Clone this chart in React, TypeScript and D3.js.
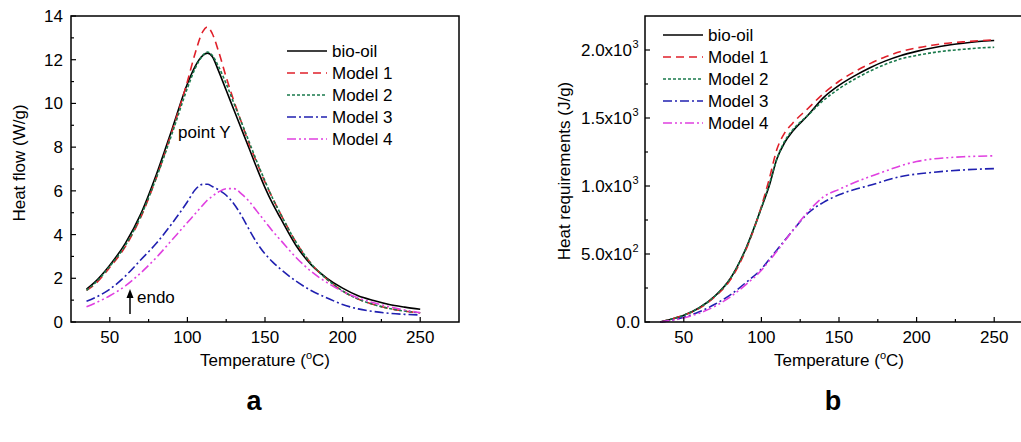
import * as d3 from "d3";

// ---- data ----
const tempA = [35, 40, 50, 60, 70, 80, 90, 100, 105, 110, 113, 116, 120, 125, 130, 135, 140, 145, 150, 155, 160, 170, 180, 190, 200, 210, 220, 230, 240, 250];
const flowBio = [1.5, 1.8, 2.6, 3.6, 4.95, 6.75, 8.8, 10.9, 11.7, 12.2, 12.3, 12.15, 11.5, 10.6, 9.7, 8.8, 7.9, 7.0, 6.15, 5.4, 4.75, 3.5, 2.6, 2.0, 1.55, 1.2, 0.98, 0.8, 0.68, 0.58];
const flowM1 = [1.45, 1.7, 2.5, 3.45, 4.8, 6.6, 8.7, 11.0, 12.3, 13.3, 13.5, 13.2, 12.4, 11.2, 10.1, 9.1, 8.1, 7.25, 6.4, 5.65, 4.95, 3.65, 2.65, 1.95, 1.42, 1.05, 0.8, 0.62, 0.5, 0.42];
const flowM2 = [1.45, 1.75, 2.55, 3.5, 4.85, 6.6, 8.6, 10.7, 11.6, 12.2, 12.35, 12.2, 11.7, 10.9, 10.0, 9.1, 8.2, 7.3, 6.45, 5.65, 4.95, 3.65, 2.65, 1.95, 1.42, 1.05, 0.8, 0.62, 0.5, 0.42];
const flowM3 = [0.95, 1.1, 1.5, 2.1, 2.85, 3.6, 4.5, 5.5, 6.05, 6.3, 6.3, 6.2, 6.05, 5.8, 5.4, 4.85, 4.2, 3.6, 3.12, 2.74, 2.42, 1.87, 1.43, 1.1, 0.8, 0.6, 0.48, 0.4, 0.35, 0.32];
const flowM4 = [0.7, 0.85, 1.2, 1.65, 2.25, 2.95, 3.75, 4.55, 4.95, 5.35, 5.58, 5.75, 5.95, 6.1, 6.1, 5.85, 5.5, 5.05, 4.6, 4.15, 3.75, 2.95, 2.3, 1.8, 1.4, 1.1, 0.88, 0.7, 0.55, 0.42];

const tempB = [35, 40, 50, 60, 70, 80, 90, 100, 105, 110, 115, 120, 130, 140, 150, 160, 170, 180, 190, 200, 210, 220, 230, 240, 250];
const heatBio = [0, 15, 50, 105, 190, 320, 540, 840, 1000, 1200, 1320, 1400, 1520, 1650, 1740, 1810, 1870, 1920, 1960, 1990, 2015, 2035, 2050, 2062, 2070];
const heatM1 = [0, 15, 50, 100, 185, 310, 530, 850, 1050, 1270, 1390, 1460, 1570, 1680, 1770, 1840, 1900, 1950, 1990, 2015, 2035, 2050, 2060, 2068, 2075];
const heatM2 = [0, 15, 50, 105, 190, 320, 540, 840, 1010, 1200, 1330, 1410, 1520, 1630, 1715, 1785, 1845, 1895, 1935, 1960, 1980, 1995, 2005, 2015, 2020];
const heatM3 = [0, 8, 35, 75, 130, 200, 290, 390, 460, 530, 600, 670, 800, 880, 935, 975, 1005, 1040, 1070, 1088, 1100, 1110, 1118, 1124, 1128];
const heatM4 = [0, 8, 30, 65, 115, 185, 275, 380, 450, 520, 595, 670, 810, 920, 975, 1025, 1070, 1110, 1150, 1180, 1198, 1208, 1215, 1219, 1222];

const seriesNames = ["bio-oil", "Model 1", "Model 2", "Model 3", "Model 4"];
const seriesColors = ["#000000", "#e0202a", "#1a7a4c", "#2020b0", "#e040e0"];
const seriesDash = ["", "8,5", "3,2", "9,3,2,3", "9,3,2,3,2,3"];

const xTicks = [50, 100, 150, 200, 250];
const xMinor = [75, 125, 175, 225];
const flowTicks = [0, 2, 4, 6, 8, 10, 12, 14];
const flowMinor = [1, 3, 5, 7, 9, 11, 13];
const heatTicks = [0, 500, 1000, 1500, 2000];
const heatTickMant = ["0.0", "5.0x10", "1.0x10", "1.5x10", "2.0x10"];
const heatTickExp = ["", "2", "3", "3", "3"];
const heatMinor = [250, 750, 1250, 1750];

const FONT = "'Liberation Sans', Arial, sans-serif";
const FS = 17;

type PanelProps = {
  left: number;
  right: number;
  temps: number[];
  series: number[][];
  yMax: number;
  legendX: number;
  legendY: number;
};

function Panel({ left, right, temps, series, yMax, legendX, legendY }: PanelProps) {
  const top = 16;
  const bottom = 322;
  const x = d3.scaleLinear().domain([25, 275]).range([left, right]);
  const y = d3.scaleLinear().domain([0, yMax]).range([bottom, top]);
  const line = d3
    .line<number>()
    .x((_, i) => x(temps[i]))
    .y((d) => y(d))
    .curve(d3.curveMonotoneX);

  return (
    <g>
      {series.map((vals, i) => (
        <path
          key={i}
          d={line(vals) || ""}
          fill="none"
          stroke={seriesColors[i]}
          strokeWidth={1.6}
          strokeDasharray={seriesDash[i]}
        />
      ))}
      {/* frame */}
      <rect x={left} y={top} width={right - left} height={bottom - top} fill="none" stroke="#000" strokeWidth={1.5} />
      {xTicks.map((t) => (
        <g key={t}>
          <line x1={x(t)} x2={x(t)} y1={bottom} y2={bottom - 5} stroke="#000" strokeWidth={1.2} />
          <text x={x(t)} y={343} textAnchor="middle" fontSize={FS} fontFamily={FONT}>{t}</text>
        </g>
      ))}
      {xMinor.map((t) => (
        <line key={t} x1={x(t)} x2={x(t)} y1={bottom} y2={bottom - 3} stroke="#000" strokeWidth={1.2} />
      ))}
      <text x={(x(25) + x(275)) / 2} y={366} textAnchor="middle" fontSize={FS} fontFamily={FONT}>
        Temperature (<tspan fontSize={11} dy={-7}>o</tspan><tspan dy={7}>C)</tspan>
      </text>
      {/* legend */}
      {seriesNames.map((n, i) => (
        <g key={n}>
          <line
            x1={legendX}
            x2={legendX + 40}
            y1={legendY + i * 22}
            y2={legendY + i * 22}
            stroke={seriesColors[i]}
            strokeWidth={1.6}
            strokeDasharray={seriesDash[i]}
          />
          <text x={legendX + 45} y={legendY + i * 22 + 6} fontSize={FS} fontFamily={FONT}>{n}</text>
        </g>
      ))}
    </g>
  );
}

export default function App() {
  const flowSeries = [flowBio, flowM1, flowM2, flowM3, flowM4];
  const heatSeries = [heatBio, heatM1, heatM2, heatM3, heatM4];
  const yA = d3.scaleLinear().domain([0, 14]).range([322, 16]);
  const yB = d3.scaleLinear().domain([0, 2250]).range([322, 16]);

  return (
    <svg
      width={1021}
      height={442}
      style={{ position: "absolute", left: 0, top: 0, background: "#fff" }}
    >
      <rect width={1021} height={442} fill="#fff" />
      {/* panel a */}
      <Panel left={71} right={459} temps={tempA} series={flowSeries} yMax={14} legendX={287} legendY={51} />
      {flowTicks.map((t) => (
        <g key={t}>
          <line x1={71} x2={76} y1={yA(t)} y2={yA(t)} stroke="#000" strokeWidth={1.2} />
          <text x={63} y={yA(t) + 6} textAnchor="end" fontSize={FS} fontFamily={FONT}>{t}</text>
        </g>
      ))}
      {flowMinor.map((t) => (
        <line key={t} x1={71} x2={74} y1={yA(t)} y2={yA(t)} stroke="#000" strokeWidth={1.2} />
      ))}
      <text transform="translate(25,163) rotate(-90)" textAnchor="middle" fontSize={FS} fontFamily={FONT}>
        Heat flow (W/g)
      </text>
      <text x={178} y={138} fontSize={FS} fontFamily={FONT}>point Y</text>
      <line x1={130} x2={130} y1={314} y2={296} stroke="#000" strokeWidth={1.5} />
      <path d="M126.5,298 L130,289 L133.5,298 Z" fill="#000" />
      <text x={137} y={303} fontSize={FS} fontFamily={FONT}>endo</text>
      <text x={254} y={410} textAnchor="middle" fontSize={27} fontWeight="bold" fontFamily={FONT}>a</text>

      {/* panel b */}
      <Panel left={645} right={1033} temps={tempB} series={heatSeries} yMax={2250} legendX={663} legendY={35} />
      {heatTicks.map((t, i) => (
        <g key={t}>
          <line x1={645} x2={650} y1={yB(t)} y2={yB(t)} stroke="#000" strokeWidth={1.2} />
          <text x={heatTickExp[i] ? 632 : 640} y={yB(t) + 6} textAnchor="end" fontSize={FS} fontFamily={FONT}>
            {heatTickMant[i]}
          </text>
          {heatTickExp[i] && (
            <text x={632.5} y={yB(t) - 2} fontSize={11} fontFamily={FONT}>{heatTickExp[i]}</text>
          )}
        </g>
      ))}
      {heatMinor.map((t) => (
        <line key={t} x1={645} x2={648} y1={yB(t)} y2={yB(t)} stroke="#000" strokeWidth={1.2} />
      ))}
      <text transform="translate(570,171) rotate(-90)" textAnchor="middle" fontSize={FS} fontFamily={FONT}>
        Heat requirements (J/g)
      </text>
      <text x={833} y={410} textAnchor="middle" fontSize={27} fontWeight="bold" fontFamily={FONT}>b</text>
    </svg>
  );
}
